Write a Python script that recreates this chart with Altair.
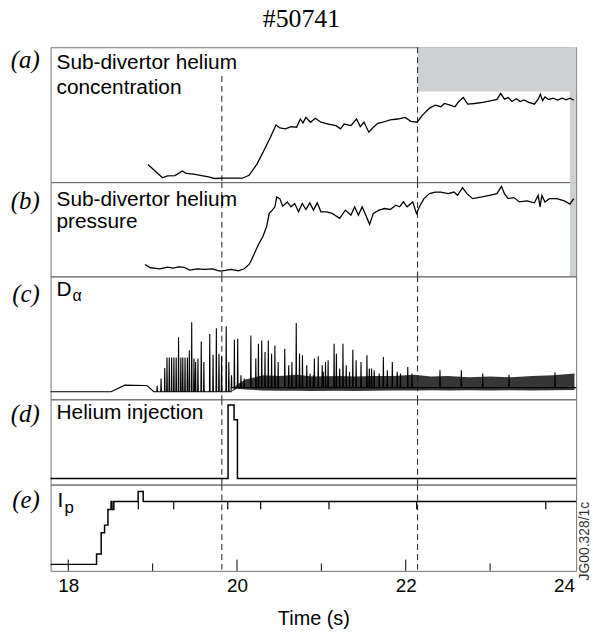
import altair as alt
import pandas as pd

SANS = "Liberation Sans"
SERIF = "Liberation Serif"

# ---------------- data ----------------
x_domain = [17.79, 24.02]
event_t = [19.82, 22.14]
tick_labels = [18, 20, 22, 24]
major_ticks = [18, 20, 22]
minor_ticks = [19, 21, 23]

# (a) sub-divertor helium concentration (a.u.)
conc_t = [18.944, 19.117, 19.175, 19.264, 19.353, 19.397, 19.486, 19.597, 19.663, 19.730,
          19.841, 20.063, 20.143, 20.240, 20.329, 20.396, 20.462, 20.507, 20.573, 20.640,
          20.706, 20.751, 20.782, 20.817, 20.871, 20.928, 20.995, 21.084, 21.173, 21.226,
          21.270, 21.350, 21.417, 21.461, 21.505, 21.563, 21.616, 21.670, 21.727, 21.816,
          21.905, 21.994, 22.060, 22.136, 22.193, 22.282, 22.349, 22.415, 22.460, 22.526,
          22.584, 22.629, 22.682, 22.735, 22.815, 22.913, 23.001, 23.081, 23.126, 23.170,
          23.214, 23.259, 23.312, 23.356, 23.401, 23.460, 23.525, 23.570, 23.596, 23.623,
          23.650, 23.694, 23.747, 23.800, 23.857, 23.902, 23.947, 23.991]
conc_v = [1.30, 0.32, 0.47, 0.49, 0.83, 0.64, 0.59, 0.47, 0.39, 0.27,
          0.29, 0.29, 0.51, 1.37, 2.48, 3.33, 4.24, 4.02, 3.95, 4.12,
          4.07, 4.68, 4.39, 4.80, 4.44, 4.73, 4.44, 4.31, 4.19, 3.95,
          4.31, 4.19, 4.68, 4.12, 4.44, 3.70, 4.07, 4.36, 4.44, 4.61,
          4.68, 4.80, 4.51, 4.44, 4.93, 5.49, 5.71, 5.59, 5.83, 5.71,
          5.59, 5.98, 6.27, 5.78, 5.83, 5.91, 6.03, 6.13, 6.57, 6.15,
          6.27, 5.98, 6.18, 5.98, 6.10, 5.91, 5.78, 6.15, 6.52, 6.03,
          6.32, 6.13, 6.23, 6.08, 6.23, 6.10, 6.23, 6.08]
shade_t0 = [22.14, 23.945]
shade_t1 = [24.02, 24.02]
shade_lo = [6.72, 0.0]
shade_hi = [10.0, 10.0]

# (b) sub-divertor helium pressure (a.u.)
pres_t = [18.909, 18.975, 19.086, 19.175, 19.242, 19.308, 19.375, 19.441, 19.530, 19.619,
          19.708, 19.796, 19.863, 19.930, 20.018, 20.085, 20.143, 20.174, 20.218, 20.263,
          20.307, 20.351, 20.382, 20.418, 20.449, 20.471, 20.507, 20.542, 20.595, 20.640,
          20.684, 20.729, 20.773, 20.817, 20.862, 20.906, 20.951, 20.995, 21.062, 21.128,
          21.217, 21.284, 21.350, 21.394, 21.439, 21.483, 21.518, 21.572, 21.616, 21.683,
          21.750, 21.816, 21.883, 21.927, 21.972, 22.016, 22.083, 22.127, 22.171, 22.216,
          22.282, 22.349, 22.415, 22.504, 22.571, 22.615, 22.673, 22.726, 22.793, 22.904,
          22.993, 23.081, 23.135, 23.170, 23.214, 23.281, 23.348, 23.437, 23.525, 23.570,
          23.592, 23.614, 23.650, 23.703, 23.791, 23.880, 23.947, 23.991]
pres_v = [1.26, 0.91, 0.80, 0.98, 0.87, 1.01, 0.94, 0.66, 0.80, 0.73,
          0.80, 0.56, 0.63, 0.73, 0.59, 0.80, 1.26, 1.78, 2.66, 3.53,
          4.23, 5.28, 6.68, 7.03, 7.38, 8.43, 8.25, 7.45, 7.90, 7.38,
          7.73, 6.85, 7.73, 7.10, 7.80, 7.03, 7.80, 6.85, 6.85, 6.68,
          6.15, 7.03, 6.50, 7.38, 6.50, 7.38, 6.68, 5.52, 6.68, 7.03,
          7.20, 7.10, 7.55, 7.38, 7.90, 7.38, 7.90, 6.68, 7.55, 8.25,
          8.78, 8.95, 8.95, 8.78, 8.95, 8.60, 9.41, 8.78, 8.25, 8.43,
          8.60, 8.78, 9.55, 8.78, 8.25, 8.36, 7.90, 8.01, 7.80, 8.60,
          7.38, 8.60, 7.90, 8.25, 8.25, 8.01, 7.66, 8.25]
strip_t0 = [23.945]
strip_t1 = [24.02]

# (c) D-alpha (a.u.)
da_slow_t = [17.79, 18.507, 18.671, 18.900, 18.936, 19.014, 19.930]
da_slow_v = [0.62, 0.62, 1.15, 1.12, 1.10, 0.62, 0.62]
elm_t = [19.053, 19.100, 19.143, 19.170, 19.197, 19.225, 19.252, 19.279, 19.307, 19.334,
         19.357, 19.384, 19.412, 19.435, 19.463, 19.490, 19.509, 19.537, 19.576, 19.607,
         19.677, 19.716, 19.755, 19.786, 19.817, 19.872, 19.903, 19.935, 19.969, 20.008,
         20.047, 20.086, 20.164, 20.223, 20.254, 20.293, 20.332, 20.371, 20.410, 20.449,
         20.488, 20.566, 20.613, 20.651, 20.702, 20.741, 20.776, 20.827, 20.866, 20.905,
         20.917, 20.963, 21.010, 21.022, 21.049, 21.080, 21.151, 21.178, 21.217, 21.256,
         21.295, 21.334, 21.373, 21.412, 21.470, 21.540, 21.568, 21.595, 21.626, 21.685,
         21.735, 21.782, 21.841, 21.899, 21.938, 22.024, 22.074, 22.406, 22.659, 22.913,
         23.225, 23.770]
elm_v = [1.10, 1.69, 2.55, 3.39, 3.39, 3.39, 3.39, 3.39, 5.05, 3.39,
         3.39, 3.39, 3.39, 3.98, 6.26, 3.31, 3.04, 3.31, 4.70, 3.04,
         5.32, 3.63, 5.78, 3.71, 3.50, 5.94, 3.04, 1.96, 4.84, 4.92,
         1.96, 1.69, 5.18, 3.31, 4.52, 4.78, 3.85, 4.78, 3.71, 4.38,
         3.04, 4.11, 2.77, 3.04, 6.21, 3.71, 3.58, 2.77, 2.10, 1.96,
         3.31, 3.50, 2.77, 2.23, 3.04, 3.17, 4.52, 3.71, 2.50, 4.52,
         2.77, 2.23, 4.03, 3.17, 3.04, 3.58, 2.50, 2.50, 2.37, 2.10,
         3.44, 2.37, 3.04, 2.23, 2.10, 2.63, 2.10, 2.37, 2.37, 2.10,
         2.00, 2.20]
elm_base_l = 0.62
elm_base_h = 0.95
elm_switch = 19.93
band_t = [19.93, 20.00, 20.10, 20.30, 20.50, 20.70, 20.90, 21.20, 21.40, 21.60,
          21.85, 22.10, 22.30, 22.50, 22.75, 23.00, 23.25, 23.50, 23.75, 24.00]
band_lo = [0.62, 0.85, 0.80, 0.72, 0.70, 0.70, 0.68, 0.70, 0.68, 0.70,
           0.72, 0.72, 0.74, 0.72, 0.74, 0.72, 0.74, 0.72, 0.74, 0.75]
band_hi = [0.62, 1.20, 1.60, 1.95, 1.90, 2.00, 1.85, 1.90, 1.85, 1.90,
           1.90, 2.00, 1.85, 1.90, 1.80, 1.85, 1.80, 1.90, 1.95, 2.10]

# (d) helium injection (a.u.)
inj_t = [17.79, 19.894, 19.894, 19.965, 19.965, 20.005, 20.005, 24.02]
inj_v = [0.70, 0.70, 9.34, 9.34, 7.59, 7.59, 0.70, 0.70]

# (e) plasma current (a.u.)
ip_t = [17.79, 18.335, 18.335, 18.39, 18.39, 18.43, 18.43, 18.47, 18.47, 18.507,
        18.507, 18.518, 18.518, 18.54, 18.54, 18.828, 18.828, 18.888, 18.888, 24.02]
ip_v = [0.75, 0.75, 1.95, 1.95, 4.41, 4.41, 5.30, 5.30, 7.10, 7.10,
        8.03, 8.03, 7.10, 7.10, 8.03, 8.03, 9.20, 9.20, 8.03, 8.03]
ip_mark_t = [18.83, 19.25, 19.89, 20.28, 21.09, 22.13, 23.66]
ip_mark_hi = 8.03
ip_mark_lo = 7.15

letters = ["(a)", "(b)", "(c)", "(d)", "(e)"]
label_a = ["Sub-divertor helium", "concentration"]
label_b = ["Sub-divertor helium", "pressure"]
label_c = ["D", "\u03b1"]
label_d = ["Helium injection"]
label_e = ["I", "p"]
shot = "#50741"
xtitle = "Time (s)"
fig_id = "JG00.328/1c"

# ---------------- helpers ----------------
W = 530
LBL = 21
xs = alt.Scale(domain=x_domain, nice=False, zero=False)
ys = alt.Scale(domain=[0, 10], nice=False, zero=False)

bottom_axis = alt.Axis(values=tick_labels, format="d", ticks=False, domain=False, grid=False,
                       labelFont=SANS, labelFontSize=19, labelColor="black", labelPadding=6,
                       labelFlush=6, title=xtitle, titleFont=SANS, titleFontSize=20,
                       titleFontWeight="normal", titleColor="black", titlePadding=13)


def X(field="t", axis=None):
    return alt.X(f"{field}:Q", scale=xs, axis=axis, title=None if axis is None else xtitle)


def Y(field="v"):
    return alt.Y(f"{field}:Q", scale=ys, axis=None)


def line(ts, vs, axis=None, width=1.3):
    df = pd.DataFrame({"t": ts, "v": vs, "i": list(range(len(ts)))})
    return alt.Chart(df).mark_line(color="black", strokeWidth=width, strokeJoin="miter").encode(
        x=X(axis=axis), y=Y(), order=alt.Order("i:Q"))


def dashed(tops, axis=None):
    df = pd.DataFrame({"t": event_t, "top": tops})
    return alt.Chart(df).mark_rule(color="#333333", strokeWidth=1.1, strokeDash=[6, 4]).encode(
        x=X(axis=axis), y=Y("top"), y2=alt.datum(0))


def text(s, x, y, size=LBL, font=SANS, align="left", style="normal"):
    return alt.Chart(pd.DataFrame({"s": [s]})).mark_text(
        align=align, baseline="alphabetic", font=font, fontSize=size, fontStyle=style,
        color="black").encode(x=alt.value(x), y=alt.value(y), text="s:N")


def letter(s, y):
    return text(s, -11, y, size=25, font=SERIF, align="right", style="italic")


# ---------------- panels ----------------
shade_df = pd.DataFrame({"t": shade_t0, "t1": shade_t1, "v": shade_lo, "v2": shade_hi})
shade = alt.Chart(shade_df).mark_rect(color="#cfd0d2").encode(
    x=X(), x2="t1:Q", y=Y(), y2="v2:Q")
panel_a = alt.layer(
    shade, dashed([7.87, 10.0]), line(conc_t, conc_v),
    text(label_a[0], 6, 22), text(label_a[1], 6, 47), letter(letters[0], 21),
).properties(width=W, height=136)

strip_df = pd.DataFrame({"t": strip_t0, "t1": strip_t1, "v": [0.0], "v2": [10.0]})
strip = alt.Chart(strip_df).mark_rect(color="#cfd0d2").encode(
    x=X(), x2="t1:Q", y=Y(), y2="v2:Q")
panel_b = alt.layer(
    strip, dashed([10.0, 10.0]), line(pres_t, pres_v),
    text(label_b[0], 6, 24), text(label_b[1], 6, 46), letter(letters[1], 27),
).properties(width=W, height=95)

pts = list(zip(da_slow_t, da_slow_v))
for tt, vv in zip(elm_t, elm_v):
    b = elm_base_l if tt < elm_switch else elm_base_h
    pts += [(tt - 0.004, b), (tt, vv), (tt + 0.004, b)]
pts.append((x_domain[1], elm_base_h))
pts.sort()
band_df = pd.DataFrame({"t": band_t, "v": band_lo, "v2": band_hi})
band = alt.Chart(band_df).mark_area(color="#1a1a1a", opacity=0.88).encode(
    x=X(), y=Y(), y2="v2:Q")
panel_c = alt.layer(
    dashed([10.0, 10.0]), band, line([p[0] for p in pts], [p[1] for p in pts], width=1.1),
    text(label_c[0], 6, 20), text(label_c[1], 22, 25, size=16), letter(letters[2], 26),
).properties(width=W, height=124)

panel_d = alt.layer(
    dashed([10.0, 10.0]), line(inj_t, inj_v, width=1.5),
    text(label_d[0], 6, 20), letter(letters[3], 23),
).properties(width=W, height=86)

tick_df = pd.DataFrame({"t": major_ticks + minor_ticks,
                        "v": [0.0] * 6, "v2": [1.3] * 3 + [0.85] * 3})
ticks = alt.Chart(tick_df).mark_rule(color="black", strokeWidth=1).encode(
    x=X(axis=bottom_axis), y=Y(), y2="v2:Q")
mark_df = pd.DataFrame({"t": ip_mark_t, "v": [ip_mark_lo] * len(ip_mark_t),
                        "v2": [ip_mark_hi] * len(ip_mark_t)})
ipmarks = alt.Chart(mark_df).mark_rule(color="black", strokeWidth=1.2).encode(
    x=X(axis=bottom_axis), y=Y(), y2="v2:Q")
panel_e = alt.layer(
    dashed([10.0, 10.0], axis=bottom_axis), ticks, ipmarks, line(ip_t, ip_v, axis=bottom_axis, width=1.5),
    text(label_e[0], 7, 23), text(label_e[1], 14, 29, size=17), letter(letters[4], 24),
    alt.Chart(pd.DataFrame({"s": [fig_id]})).mark_text(
        angle=270, align="center", baseline="middle", font=SANS, fontSize=14, color="#333333"
    ).encode(x=alt.value(539), y=alt.value(57), text="s:N"),
).properties(width=W, height=87)

chart = alt.vconcat(panel_a, panel_b, panel_c, panel_d, panel_e,
                    spacing=0, bounds="flush").properties(
    title=alt.TitleParams(shot, font=SERIF, fontSize=26, fontWeight="normal", color="black",
                          anchor="middle", offset=14),
    padding={"left": 10, "top": 3, "right": 0, "bottom": 0},
    background="white",
).configure_view(stroke="#707070", strokeWidth=1)

chart.save("out.html", embed_options={"renderer": "svg", "actions": False})
